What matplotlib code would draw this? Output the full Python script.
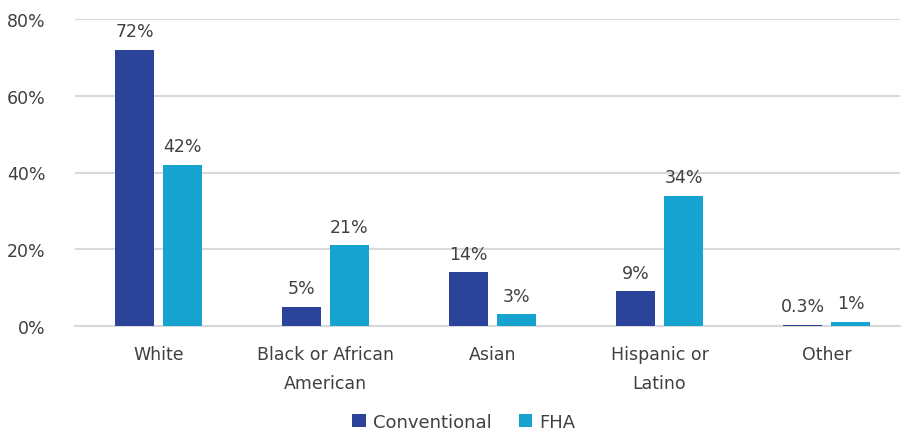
import matplotlib.pyplot as plt
import numpy as np

plt.rcParams['font.family'] = ['DejaVu Sans']

categories = ["White", "Black or African\nAmerican", "Asian", "Hispanic or\nLatino", "Other"]
conventional = [72, 5, 14, 9, 0.3]
fha = [42, 21, 3, 34, 1]
conv_labels = ["72%", "5%", "14%", "9%", "0.3%"]
fha_labels = ["42%", "21%", "3%", "34%", "1%"]

conv_color = "#2B4399"
fha_color = "#16A3CF"
text_color = "#404040"

fig = plt.figure(figsize=(9.01, 4.35), dpi=100)
ax = fig.add_axes([75 / 901, 1 - 327 / 435, 825 / 901, 307 / 435])

x = np.arange(len(categories))
w = 0.235
off = 0.144
b1 = ax.bar(x - off, conventional, w, color=conv_color, label="Conventional", zorder=3)
b2 = ax.bar(x + off, fha, w, color=fha_color, label="FHA", zorder=3)

for bars, labels in [(b1, conv_labels), (b2, fha_labels)]:
    for bar, lab in zip(bars, labels):
        ax.annotate(lab, (bar.get_x() + bar.get_width() / 2, bar.get_height()),
                    xytext=(0, 7), textcoords="offset points", ha="center", va="bottom",
                    fontsize=12.5, color=text_color)

ax.set_xlim(-0.5, 4.44)
ax.set_ylim(0, 80)
ax.set_yticks([0, 20, 40, 60, 80])
ax.set_yticklabels(["0%", "20%", "40%", "60%", "80%"])
ax.set_xticks(x)
ax.set_xticklabels(categories, linespacing=1.75)
ax.tick_params(axis="both", length=0, labelsize=12.5, labelcolor=text_color)
ax.tick_params(axis="y", pad=21)
ax.tick_params(axis="x", pad=14)
ax.yaxis.grid(True, color="#D9D9D9", linewidth=1.5, zorder=0)
for s in ["top", "right", "left"]:
    ax.spines[s].set_visible(False)
ax.spines["bottom"].set_color("#D9D9D9")
ax.spines["bottom"].set_linewidth(1.5)

fig.legend(loc="lower center", bbox_to_anchor=(0.515, -0.03), ncol=2, frameon=False,
           fontsize=13, labelcolor=text_color, handlelength=0.75, handleheight=0.75,
           handletextpad=0.4, columnspacing=1.5)

fig.savefig("out.png", dpi=100)
